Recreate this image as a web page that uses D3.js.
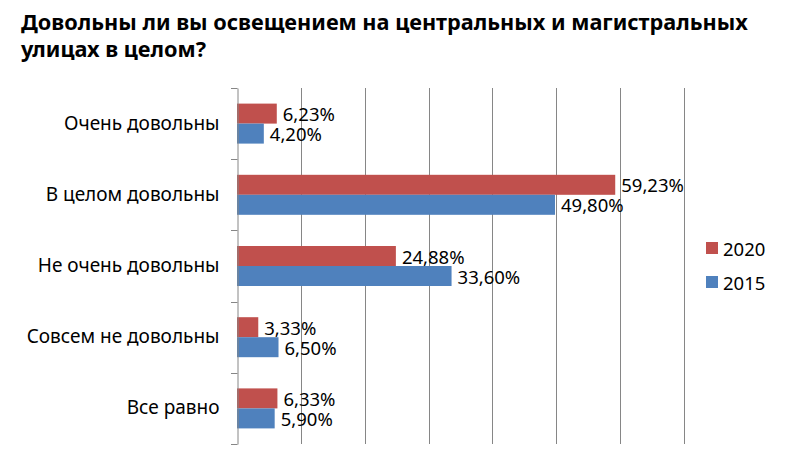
<!DOCTYPE html>
<html><head><meta charset="utf-8">
<script src="https://cdn.jsdelivr.net/npm/d3@7/dist/d3.min.js"></script>
<style>body{margin:0;background:#fff}svg{display:block}</style>
</head><body>
<script>
const titleLines = ["Довольны ли вы освещением на центральных и магистральных", "улицах в целом?"];
const categories = ["Очень довольны", "В целом довольны", "Не очень довольны", "Совсем не довольны", "Все равно"];
const seriesNames = ["2020", "2015"];
const values2020 = [6.23, 59.23, 24.88, 3.33, 6.33];
const values2015 = [4.20, 49.80, 33.60, 6.50, 5.90];
const labels2020 = ["6,23%", "59,23%", "24,88%", "3,33%", "6,33%"];
const labels2015 = ["4,20%", "49,80%", "33,60%", "6,50%", "5,90%"];
const colors = ["#C0504D", "#4F81BD"];
const xTicks = [0, 10, 20, 30, 40, 50, 60, 70];

const W = 808, H = 457;
const svg = d3.select("body").append("svg").attr("width", W).attr("height", H);
const font = "'Noto Sans', sans-serif";

const title = svg.append("text").attr("font-family", font).attr("font-weight", "bold")
  .attr("font-size", 21.7).attr("fill", "#000");
titleLines.forEach((t, i) => title.append("tspan").attr("x", 21).attr("y", 30 + i * 27).text(t));

const x = d3.scaleLinear().domain([0, 70]).range([237, 684]);
const y = d3.scaleBand().domain(categories).range([88, 444]).paddingInner(0).paddingOuter(0);
const inner = d3.scaleBand().domain(seriesNames).range([0, y.bandwidth()]).paddingInner(0).paddingOuter(0.78);

// gridlines
svg.append("g").selectAll("line").data(xTicks.slice(1)).join("line")
  .attr("x1", d => Math.round(x(d)) + 0.5).attr("x2", d => Math.round(x(d)) + 0.5)
  .attr("y1", 88).attr("y2", 444).attr("stroke", "#868686").attr("stroke-width", 1);

const series = [values2020, values2015];
const labels = [labels2020, labels2015];
series.forEach((vals, si) => {
  const g = svg.append("g");
  g.selectAll("rect").data(vals).join("rect")
    .attr("x", x(0)).attr("y", (d, i) => y(categories[i]) + inner(seriesNames[si]))
    .attr("width", d => x(d) - x(0)).attr("height", inner.bandwidth())
    .attr("fill", colors[si]);
  g.selectAll("text").data(vals).join("text")
    .attr("x", d => x(d) + 6)
    .attr("y", (d, i) => y(categories[i]) + inner(seriesNames[si]) + inner.bandwidth() / 2)
    .attr("dominant-baseline", "central")
    .attr("font-family", font).attr("font-size", 18.5).attr("fill", "#000")
    .text((d, i) => labels[si][i]);
});

// y axis
const yAxis = d3.axisLeft(y).tickSize(0).tickPadding(18);
const ag = svg.append("g").attr("transform", `translate(${Math.round(x(0)) + 0.5},0)`).call(yAxis);
ag.select(".domain").attr("stroke", "#868686");
ag.selectAll("text").attr("font-family", font).attr("font-size", 19).attr("fill", "#000");
// band boundary ticks
const bounds = categories.map(c => y(c)).concat([y.range()[1]]);
svg.append("g").selectAll("line").data(bounds).join("line")
  .attr("x1", Math.round(x(0)) - 6).attr("x2", Math.round(x(0)) + 0.5)
  .attr("y1", d => Math.round(d) + 0.5).attr("y2", d => Math.round(d) + 0.5)
  .attr("stroke", "#868686");

// legend
const lg = svg.append("g");
seriesNames.forEach((s, i) => {
  const cy = 248 + i * 34;
  lg.append("rect").attr("x", 706).attr("y", cy - 6).attr("width", 12).attr("height", 12).attr("fill", colors[i]);
  lg.append("text").attr("x", 723).attr("y", cy).attr("dominant-baseline", "central")
    .attr("font-family", font).attr("font-size", 18.5).text(s);
});
</script>
</body></html>
